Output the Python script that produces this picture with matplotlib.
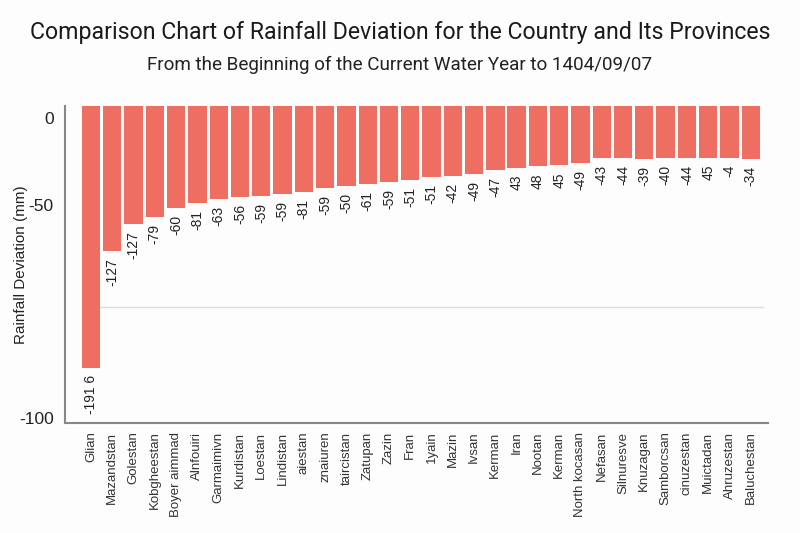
import numpy as np
import matplotlib
matplotlib.use("Agg")
import matplotlib.pyplot as plt

plt.rcParams["font.family"] = ["Liberation Sans", "DejaVu Sans"]

TITLE = "Comparison Chart of Rainfall Deviation for the Country and Its Provinces"
SUBTITLE = "From the Beginning of the Current Water Year to 1404/09/07"
YLABEL = "Rainfall Deviation (mm)"

provinces = [
    "Glian", "Mazandstan", "Golestan", "Kobgheestan", "Boyer aimmad",
    "Alnfouiri", "Garmaimivn", "Kurdistan", "Loestan", "Lindistan",
    "aiestan", "znaiuren", "taircistan", "Zatupan", "Zazin", "Fran",
    "1yain", "Mazin", "Ivsan", "Kerman", "Iran", "Nootan", "Kerman",
    "North kocasan", "Nefasan", "Silnuresve", "Knuzagan", "Samborcsan",
    "cinuzestan", "Muictadan", "Ahruzestan", "Baluchestan",
]

# bar ends, read against the chart's own (uneven) axis
deviation = [
    -88.3, -60.8, -54.5, -52.8, -50.7, -48.9, -46.6, -45.4, -44.8, -43.7,
    -42.5, -40.2, -39.1, -37.9, -36.8, -35.6, -33.9, -33.3, -32.2, -29.9,
    -28.7, -27.6, -27.0, -25.9, -23.0, -23.0, -23.6, -23.0, -23.0, -22.8,
    -22.8, -23.6,
]

# printed labels under each bar
value_labels = [
    "-191 6", "-127", "-127", "-79", "-60", "-81", "-63", "-56", "-59",
    "-59", "-81", "-59", "-50", "-61", "-59", "-51", "-51", "-42", "-49",
    "-47", "43", "48", "45", "-49", "-43", "-44", "-39", "-40", "-44",
    "45", "-4", "-34",
]

y_ticks = [0, -50, -100]
ref_line = -74

# the original axis is not evenly spaced: piecewise-linear scale
SCALE_VALS = [-200, -100, -50, 0, 50]
SCALE_POS = [-421, 5, 218, 305, 392]
Y_TOP = 6.9
Y_BOTTOM = -101.2

BAR_COLOR = "#EE6F61"


def forward(v):
    return np.interp(v, SCALE_VALS, SCALE_POS)


def inverse(p):
    return np.interp(p, SCALE_POS, SCALE_VALS)


fig = plt.figure(figsize=(8, 5.33), dpi=100, facecolor="#fdfdfd")
ax = fig.add_axes([0.081, 0.206, 0.879, 0.595])
ax.set_facecolor("#fdfdfd")
ax.set_yscale("function", functions=(forward, inverse))

x = np.arange(len(provinces))
vals = np.array(deviation)
ax.bar(x, vals - Y_TOP, bottom=Y_TOP, width=0.86, color=BAR_COLOR, zorder=2)

for xi, v, lab in zip(x, vals, value_labels):
    ax.annotate(lab, (xi, v), xytext=(0, -5), textcoords="offset points",
                rotation=90, ha="center", va="top", fontsize=10,
                color="#222222")

ax.axhline(ref_line, xmin=0.05, xmax=0.993, color="#dddddd", lw=1, zorder=1)

ax.set_xlim(-1.23, 31.81)
ax.set_ylim(Y_BOTTOM, Y_TOP)
ax.set_xticks(x)
ax.set_xticklabels(provinces, rotation=90, fontsize=9.5, color="#333333")
ax.set_yticks(y_ticks)
ax.set_yticklabels([str(t) for t in y_ticks], fontsize=12.5, color="#222222")
ax.tick_params(axis="both", length=0)
ax.tick_params(axis="x", pad=6)
ax.tick_params(axis="y", pad=8)

for side in ["top", "right"]:
    ax.spines[side].set_visible(False)
for side in ["left", "bottom"]:
    ax.spines[side].set_color("#888888")
    ax.spines[side].set_linewidth(1.5)

ax.set_ylabel(YLABEL, fontsize=11, color="#222222")
ax.yaxis.set_label_coords(-0.053, 0.5)

fig.text(0.5, 0.939, TITLE, ha="center", va="center", fontsize=16.7,
         family=["Roboto", "DejaVu Sans"], color="#1a1a1a")
fig.text(0.5, 0.879, SUBTITLE, ha="center", va="center", fontsize=13.6,
         family=["Roboto", "DejaVu Sans"], color="#222222")

fig.savefig("out.png", dpi=100, facecolor=fig.get_facecolor())
